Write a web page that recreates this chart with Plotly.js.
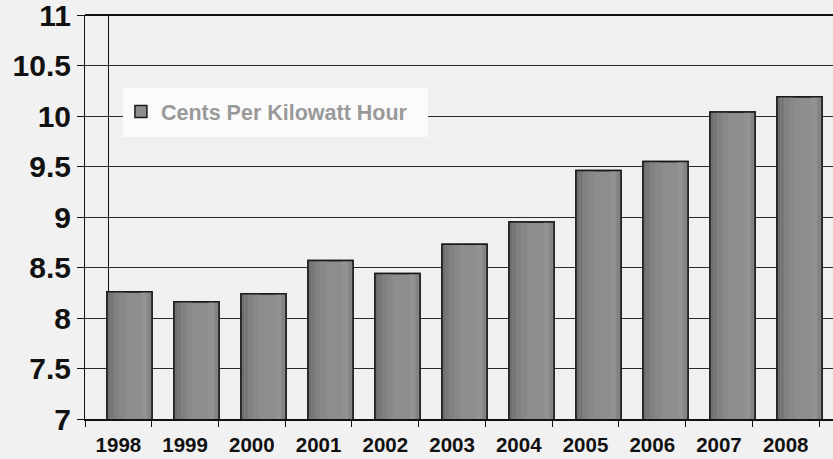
<!DOCTYPE html>
<html>
<head>
<meta charset="utf-8">
<script src="https://cdn.plot.ly/plotly-3.0.1.min.js"></script>
<style>
  html, body { margin: 0; padding: 0; background: #f1f1f1; }
  #chart { width: 833px; height: 459px; }
</style>
</head>
<body>
<div id="chart"></div>
<script>
// Average electricity price, cents per kilowatt hour
const years = ['1998', '1999', '2000', '2001', '2002', '2003', '2004', '2005', '2006', '2007', '2008'];
const centsPerKwh = [8.26, 8.16, 8.24, 8.57, 8.44, 8.73, 8.95, 9.46, 9.55, 10.04, 10.19];
const yTicks = [7, 7.5, 8, 8.5, 9, 9.5, 10, 10.5, 11];
const yTickText = ['7', '7.5', '8', '8.5', '9', '9.5', '10', '10.5', '11'];
const seriesName = 'Cents Per Kilowatt Hour';

const BAR_W = 0.672;            // bar width in category units
const START = -BAR_W / 2;

// Shading bands across each column (fractions of bar width) to give a rounded look
const bands = [
  { from: 0.00, to: 0.07, color: '#6e6e6e' },
  { from: 0.07, to: 0.16, color: '#777777' },
  { from: 0.16, to: 0.28, color: '#818181' },
  { from: 0.28, to: 0.40, color: '#888888' },
  { from: 0.76, to: 0.90, color: '#929292' },
  { from: 0.90, to: 1.00, color: '#838383' }
];

const traces = [];

// base column
traces.push({
  type: 'bar', x: years, y: centsPerKwh, name: seriesName,
  width: BAR_W, offset: START,
  marker: { color: '#8d8d8d', line: { color: '#1a1a1a', width: 1.5 } },
  showlegend: true, hoverinfo: 'x+y'
});

bands.forEach(b => {
  traces.push({
    type: 'bar', x: years, y: centsPerKwh,
    width: BAR_W * (b.to - b.from), offset: START + BAR_W * b.from,
    marker: { color: b.color, line: { width: 0 } },
    showlegend: false, hoverinfo: 'skip'
  });
});

// outline on top of the shading
traces.push({
  type: 'bar', x: years, y: centsPerKwh,
  width: BAR_W, offset: START,
  marker: { color: 'rgba(0,0,0,0)', line: { color: '#1a1a1a', width: 1.5 } },
  showlegend: false, hoverinfo: 'skip'
});

// carrier for the labelled category axis
traces.push({
  type: 'scatter', mode: 'none', x: years, y: centsPerKwh,
  xaxis: 'x2', yaxis: 'y', showlegend: false, hoverinfo: 'skip'
});

const bold = (size, color) => ({ family: 'Liberation Sans, Arial, sans-serif', size: size, color: color, weight: 'bold' });

const layout = {
  width: 833, height: 459,
  margin: { l: 85, r: 0, t: 15, b: 40, pad: 0 },
  paper_bgcolor: '#f1f1f1',
  plot_bgcolor: '#f0f0f0',
  barmode: 'overlay',
  showlegend: true,
  legend: {
    x: 0.048, y: 0.812, xanchor: 'left', yanchor: 'top',
    bgcolor: 'rgba(0,0,0,0)', borderwidth: 0,
    font: bold(21.5, '#999999')
  },
  xaxis: {
    type: 'category', range: [-0.664, 10.5],
    showticklabels: false, ticks: '', showgrid: false, zeroline: false,
    showline: true, linecolor: '#111111', linewidth: 2, fixedrange: true
  },
  xaxis2: {
    type: 'category', overlaying: 'x', anchor: 'y', side: 'bottom',
    range: [-0.5, 10.709], tickson: 'boundaries',
    ticks: 'outside', ticklen: 7, tickwidth: 1, tickcolor: '#111111',
    showgrid: false, zeroline: false, showline: false,
    ticklabelstandoff: 11,
    tickfont: bold(20.5, '#111111'), fixedrange: true
  },
  yaxis: {
    range: [7, 11], tickmode: 'array', tickvals: yTicks, ticktext: yTickText,
    ticklabeloverflow: 'allow',
    ticks: 'outside', ticklen: 7, tickwidth: 1, tickcolor: '#111111',
    showline: true, linecolor: '#111111', linewidth: 1,
    gridcolor: '#2a2a2a', gridwidth: 1, zeroline: false,
    tickfont: bold(30, '#111111'), fixedrange: true
  },
  shapes: [
    // back wall edge
    { type: 'line', xref: 'paper', yref: 'paper', x0: 0.0314, x1: 0.0314, y0: 0, y1: 1,
      line: { color: '#111111', width: 1 }, layer: 'below' },
    // top border
    { type: 'line', xref: 'paper', yref: 'paper', x0: 0, x1: 1, y0: 1, y1: 1,
      line: { color: '#111111', width: 2 }, layer: 'above' },
    // legend panel
    { type: 'rect', xref: 'paper', yref: 'paper', x0: 0.0508, x1: 0.4586, y0: 0.6980, y1: 0.8193,
      fillcolor: '#fbfbfb', line: { width: 0 }, layer: 'above' }
  ]
};

Plotly.newPlot('chart', traces, layout, { displayModeBar: false, staticPlot: true });
</script>
</body>
</html>
